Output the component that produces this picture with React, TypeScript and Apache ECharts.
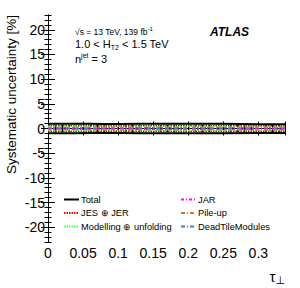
import React, { useEffect, useRef } from "react";
import * as echarts from "echarts";

const binEdges = [0, 0.02, 0.04, 0.06, 0.08, 0.1, 0.13, 0.16, 0.2, 0.25, 0.3, 0.338];
const totalUp = [0.95, 0.95, 0.95, 0.9, 0.9, 0.95, 0.95, 0.95, 0.95, 0.85, 0.85];
const totalDn = [-0.95, -0.95, -0.9, -0.9, -0.9, -0.95, -0.95, -0.95, -0.95, -0.9, -0.9];
const jesUp = [0.6, 0.6, 0.6, 0.55, 0.55, 0.6, 0.6, 0.6, 0.6, 0.55, 0.55];
const jesDn = [-0.6, -0.6, -0.6, -0.55, -0.55, -0.6, -0.6, -0.6, -0.6, -0.55, -0.55];
const modUp = [0.4, 0.4, 0.4, 0.4, 0.4, 0.45, 0.45, 0.45, 0.4, 0.4, 0.4];
const modDn = [-0.4, -0.4, -0.4, -0.4, -0.4, -0.45, -0.45, -0.45, -0.4, -0.4, -0.4];
const jarUp = [0.15, 0.15, 0.15, 0.15, 0.15, 0.15, 0.2, 0.2, 0.2, 0.15, 0.15];
const jarDn = [-0.15, -0.15, -0.15, -0.15, -0.15, -0.15, -0.2, -0.2, -0.2, -0.15, -0.15];
const puUp = [0.25, 0.25, 0.25, 0.25, 0.25, 0.25, 0.25, 0.25, 0.25, 0.25, 0.25];
const puDn = [-0.25, -0.25, -0.25, -0.25, -0.25, -0.25, -0.25, -0.25, -0.25, -0.25, -0.25];
const dtUp = [0.05, 0.05, 0.05, 0.05, 0.05, 0.05, 0.05, 0.05, 0.05, 0.05, 0.05];
const dtDn = [-0.05, -0.05, -0.05, -0.05, -0.05, -0.05, -0.05, -0.05, -0.05, -0.05, -0.05];

const yLabelTicks = [-20, -15, -10, -5, 0, 5, 10, 15, 20];
const yMinorTicks: number[] = [];
for (let v = -23; v <= 23; v++) yMinorTicks.push(v);
const xMinorTicks: number[] = [];
for (let i = 0; i <= 33; i++) xMinorTicks.push(Math.round(i * 0.01 * 1000) / 1000);

const FONT = "Liberation Sans";

function stepData(vals: number[]) {
  const d: number[][] = vals.map((v, i) => [binEdges[i], v]);
  d.push([binEdges[binEdges.length - 1], vals[vals.length - 1]]);
  return d;
}

export default function App() {
  const ref = useRef<HTMLDivElement>(null);
  useEffect(() => {
    if (!ref.current) return;
    const chart = echarts.init(ref.current, undefined, { renderer: "svg" });
    const mk = (name: string, vals: number[], color: string, width: number, type: any) => ({
      name,
      type: "line",
      step: "end",
      data: stepData(vals),
      showSymbol: false,
      symbol: "none",
      legendIcon: "none",
      xAxisIndex: 0,
      yAxisIndex: 0,
      lineStyle: { color, width, type },
      itemStyle: { color },
      z: 3,
    });
    const axisLine = { show: true, lineStyle: { color: "#000", width: 1 } };
    const xMax = binEdges[binEdges.length - 1];
    const legendCommon = {
      orient: "vertical", top: 190, itemWidth: 15, itemHeight: 10, itemGap: 4.5,
      itemStyle: { opacity: 0 },
      textStyle: { fontSize: 9.3, fontFamily: FONT, color: "#000", padding: [0, 0, 0, -3] },
    };
    const option: any = {
      animation: false,
      backgroundColor: "#fff",
      grid: { left: 48, right: 15, top: 15, bottom: 46 },
      xAxis: [
        {
          type: "value", min: 0, max: xMax, interval: 0.05, position: "bottom",
          axisLine,
          axisTick: { inside: true, length: 7, lineStyle: { color: "#000" } },
          axisLabel: { color: "#000", fontSize: 14, fontFamily: FONT, margin: 4,
            formatter: (v: number) => (v > 0.32 ? "" : String(Math.round(v * 100) / 100)) },
          splitLine: { show: false },
        },
        {
          type: "value", min: 0, max: xMax, position: "bottom",
          axisLine: { show: false },
          axisTick: { inside: true, length: 3.5, customValues: xMinorTicks, lineStyle: { color: "#000" } },
          axisLabel: { show: false }, splitLine: { show: false },
        },
        {
          type: "value", min: 0, max: xMax, interval: 0.05, position: "top",
          axisLine,
          axisTick: { inside: true, length: 7, lineStyle: { color: "#000" } },
          axisLabel: { show: false }, splitLine: { show: false },
        },
        {
          type: "value", min: 0, max: xMax, position: "top",
          axisLine: { show: false },
          axisTick: { inside: true, length: 3.5, customValues: xMinorTicks, lineStyle: { color: "#000" } },
          axisLabel: { show: false }, splitLine: { show: false },
        },
      ],
      yAxis: [
        {
          type: "value", min: -23, max: 23, position: "left",
          axisLine,
          axisTick: { inside: true, length: 7, customValues: yLabelTicks, lineStyle: { color: "#000" } },
          axisLabel: { color: "#000", fontSize: 14, fontFamily: FONT, margin: 3, customValues: yLabelTicks },
          splitLine: { show: false },
        },
        {
          type: "value", min: -23, max: 23, position: "left",
          axisLine: { show: false },
          axisTick: { inside: true, length: 3.5, customValues: yMinorTicks, lineStyle: { color: "#000" } },
          axisLabel: { show: false }, splitLine: { show: false },
        },
        {
          type: "value", min: -23, max: 23, position: "right",
          axisLine,
          axisTick: { inside: true, length: 7, customValues: yLabelTicks, lineStyle: { color: "#000" } },
          axisLabel: { show: false }, splitLine: { show: false },
        },
        {
          type: "value", min: -23, max: 23, position: "right",
          axisLine: { show: false },
          axisTick: { inside: true, length: 3.5, customValues: yMinorTicks, lineStyle: { color: "#000" } },
          axisLabel: { show: false }, splitLine: { show: false },
        },
      ],
      legend: [
        { ...legendCommon, left: 58, data: ["Total", "JES ⊕ JER", "Modelling ⊕ unfolding"] },
        { ...legendCommon, left: 175, data: ["JAR", "Pile-up", "DeadTileModules"] },
      ],
      series: [
        mk("DeadTileModules", dtUp, "#3a7fc0", 1.5, [4, 2, 1, 2]),
        mk("DeadTileModules", dtDn, "#3a7fc0", 1.5, [4, 2, 1, 2]),
        mk("JAR", jarUp, "#ff00ff", 1.5, [3, 2, 1, 2]),
        mk("JAR", jarDn, "#ff00ff", 1.5, [3, 2, 1, 2]),
        mk("Pile-up", puUp, "#d2782a", 1.5, [4, 2, 1, 2]),
        mk("Pile-up", puDn, "#d2782a", 1.5, [4, 2, 1, 2]),
        mk("Modelling ⊕ unfolding", modUp, "#55ff55", 1.5, [1.5, 1]),
        mk("Modelling ⊕ unfolding", modDn, "#55ff55", 1.5, [1.5, 1]),
        mk("JES ⊕ JER", jesUp, "#ff0000", 1.5, [1.5, 1]),
        mk("JES ⊕ JER", jesDn, "#ff0000", 1.5, [1.5, 1]),
        mk("Total", totalUp, "#000000", 2, "solid"),
        mk("Total", totalDn, "#000000", 2, "solid"),
      ],
      graphic: [
        {
          type: "text", x: 11, y: 15, rotation: Math.PI / 2,
          style: { text: "Systematic uncertainty [%]", fontSize: 13.5, fontFamily: FONT, fill: "#000",
            align: "right", verticalAlign: "middle" },
        },
        {
          type: "text", x: 285, y: 276,
          style: {
            text: "{a|τ}{b|⊥}", align: "right", verticalAlign: "middle",
            rich: {
              a: { fontSize: 15, fontFamily: FONT, fill: "#000" },
              b: { fontSize: 11, fontFamily: "DejaVu Sans", fill: "#000", padding: [8, 0, 0, 0] },
            },
          },
        },
        {
          type: "text", x: 75, y: 32,
          style: {
            text: "{a|√s = 13 TeV, 139 fb}{s|-1}", verticalAlign: "middle",
            rich: {
              a: { fontSize: 8.5, fontFamily: FONT, fill: "#000" },
              s: { fontSize: 6, fontFamily: FONT, fill: "#000", padding: [0, 0, 6, 0] },
            },
          },
        },
        {
          type: "text", x: 75, y: 44,
          style: {
            text: "{a|1.0 < H}{s|T2}{a| < 1.5 TeV}", verticalAlign: "middle",
            rich: {
              a: { fontSize: 11, fontFamily: FONT, fill: "#000" },
              s: { fontSize: 7, fontFamily: FONT, fill: "#000", padding: [6, 0, 0, 0] },
            },
          },
        },
        {
          type: "text", x: 75, y: 59,
          style: {
            text: "{a|n}{s|jet}{a| = 3}", verticalAlign: "middle",
            rich: {
              a: { fontSize: 11, fontFamily: FONT, fill: "#000" },
              s: { fontSize: 7, fontFamily: FONT, fill: "#000", padding: [0, 0, 8, 0] },
            },
          },
        },
        {
          type: "text", x: 210, y: 32,
          style: { text: "ATLAS", fontSize: 12, fontWeight: "bold", fontStyle: "italic",
            fontFamily: FONT, fill: "#000", verticalAlign: "middle" },
        },
      ],
    };
    chart.setOption(option);
    return () => chart.dispose();
  }, []);
  return <div ref={ref} style={{ width: 300, height: 288, position: "absolute", left: 0, top: 0 }} />;
}
